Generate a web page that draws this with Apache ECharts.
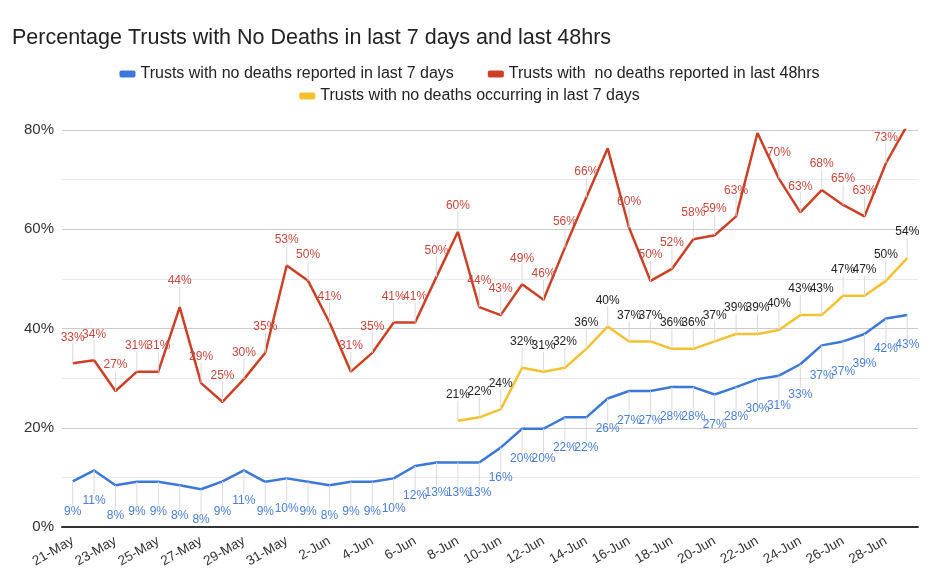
<!DOCTYPE html>
<html>
<head>
<meta charset="utf-8">
<script src="https://cdn.jsdelivr.net/npm/echarts@6/dist/echarts.min.js"></script>
<style>html,body{margin:0;padding:0;background:#fff}#c{width:939px;height:586px}</style>
</head>
<body>
<div id="c"></div>
<script>
const dates = ['21-May','22-May','23-May','24-May','25-May','26-May','27-May','28-May','29-May','30-May','31-May',
  '1-Jun','2-Jun','3-Jun','4-Jun','5-Jun','6-Jun','7-Jun','8-Jun','9-Jun','10-Jun','11-Jun','12-Jun','13-Jun','14-Jun',
  '15-Jun','16-Jun','17-Jun','18-Jun','19-Jun','20-Jun','21-Jun','22-Jun','23-Jun','24-Jun','25-Jun','26-Jun','27-Jun','28-Jun','29-Jun'];
const reported7 = [9.2,11.4,8.4,9.1,9.1,8.4,7.6,9.2,11.4,9.1,9.8,9.1,8.4,9.1,9.1,9.8,12.3,13.0,13.0,13.0,16.0,19.8,19.8,22.1,22.1,25.9,27.4,27.4,28.2,28.2,26.7,28.2,29.8,30.5,32.8,36.6,37.4,38.9,42.0,42.7];
const reported48 = [33,33.6,27.4,31.3,31.3,44.3,29,25.2,29.8,35.1,52.7,49.6,41.2,31.3,35.1,41.2,41.2,50.4,59.5,44.3,42.7,48.9,45.8,56.3,66.4,76.3,60.3,49.6,52,58,58.8,62.6,79.4,70.2,63.4,67.9,64.9,62.6,73.3,81];
const occurring7 = [null,null,null,null,null,null,null,null,null,null,null,null,null,null,null,null,null,null,
  21.4,22.1,23.7,32.1,31.3,32.1,35.9,40.4,37.4,37.4,35.9,35.9,37.4,38.9,38.9,39.7,42.7,42.7,46.6,46.6,49.6,54.2];
const yTicks = [0,20,40,60,80];
const hiddenRedLabels = ['15-Jun','22-Jun','29-Jun'];
const names = ['Trusts with no deaths reported in last 7 days','Trusts with  no deaths reported in last 48hrs','Trusts with no deaths occurring in last 7 days'];

const chart = echarts.init(document.getElementById('c'));
const font = 'Arial, "Liberation Sans", sans-serif';
const pct = v => Math.round(v) + '%';
const legendBase = {left:'center',itemWidth:16,itemHeight:7,itemGap:34,icon:'roundRect',
    textStyle:{fontSize:16,color:'#222',fontFamily:font}};
const stem = {show:true,lineStyle:{color:'#dadada',width:1}};
const redData = reported48.map((v,i)=> hiddenRedLabels.includes(dates[i]) ? {value:v,label:{show:false},labelLine:{show:false}} : v);
chart.setOption({
  animation:false,
  textStyle:{fontFamily:font},
  title:{text:'Percentage Trusts with No Deaths in last 7 days and last 48hrs',left:7,top:22,
    textStyle:{fontSize:21.5,fontWeight:'normal',color:'#222',fontFamily:font}},
  legend:[Object.assign({top:61,data:[names[0],names[1]]},legendBase),
          Object.assign({top:83,data:[names[2]]},legendBase)],
  grid:{left:62,right:21,top:130,bottom:59},
  xAxis:{type:'category',data:dates,boundaryGap:true,
    axisLine:{lineStyle:{color:'#333',width:2}},axisTick:{show:false},
    axisLabel:{interval:1,rotate:30,color:'#333',fontSize:13.5,margin:13}},
  yAxis:{type:'value',min:yTicks[0],max:yTicks[yTicks.length-1],interval:20,
    axisLine:{show:false},axisTick:{show:false},
    axisLabel:{formatter:v=>v+'%',color:'#333',fontSize:15,margin:8},
    splitLine:{lineStyle:{color:'#ccc'}},
    minorTick:{show:false,splitNumber:2},
    minorSplitLine:{show:true,lineStyle:{color:'#ebebeb'}}},
  series:[
    {name:names[0],type:'line',data:reported7,symbol:'circle',symbolSize:0.1,showAllSymbol:true,
      lineStyle:{width:2.5,color:'#3c78d8'},itemStyle:{color:'#3c78d8'},
      label:{show:true,position:'bottom',distance:2,formatter:p=>pct(p.value),color:'#4a80d6',fontSize:12},
      labelLayout:{dy:22},labelLine:stem},
    {name:names[1],type:'line',data:redData,symbol:'circle',symbolSize:0.1,showAllSymbol:true,
      lineStyle:{width:2.5,color:'#cc4125'},itemStyle:{color:'#cc4125'},
      label:{show:true,position:'top',distance:2,formatter:p=>pct(p.value),color:'#c9483b',fontSize:12},
      labelLayout:{dy:-18},labelLine:stem},
    {name:names[2],type:'line',data:occurring7,symbol:'circle',symbolSize:0.1,showAllSymbol:true,
      lineStyle:{width:2.5,color:'#f1c232'},itemStyle:{color:'#f1c232'},
      label:{show:true,position:'top',distance:2,formatter:p=>pct(p.value),color:'#222',fontSize:12},
      labelLayout:{dy:-18},labelLine:stem}
  ]
});
</script>
</body>
</html>
